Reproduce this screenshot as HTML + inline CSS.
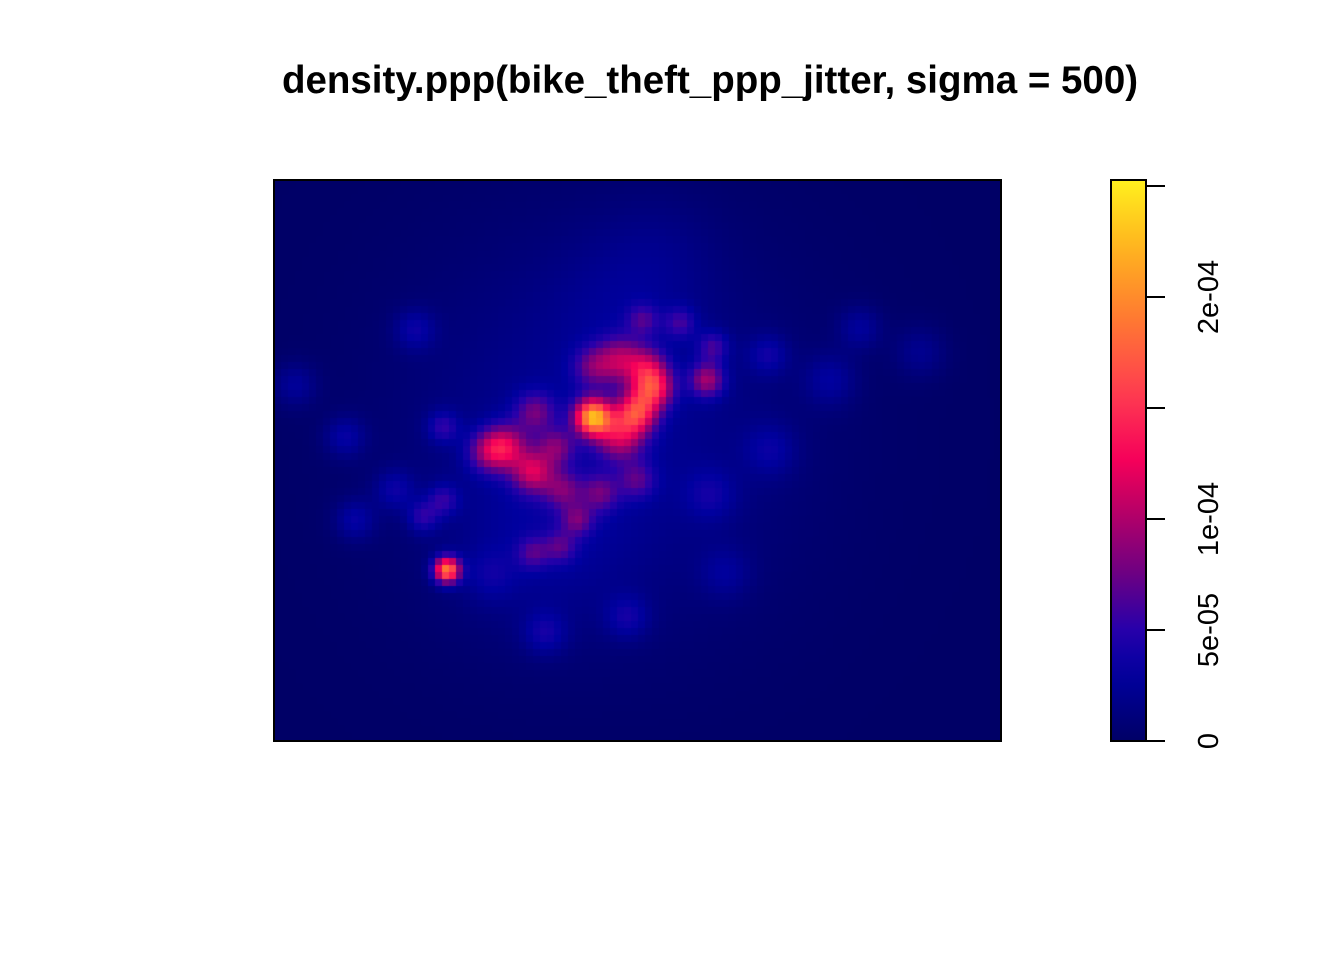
<!DOCTYPE html>
<html><head><meta charset="utf-8"><style>
body{margin:0;background:#fff;width:1344px;height:960px;overflow:hidden;font-family:"Liberation Sans",sans-serif}
</style></head><body>
<svg width="1344" height="960" style="position:absolute;left:0;top:0">
<text x="710" y="93" text-anchor="middle" font-size="38.5" font-weight="bold">density.ppp(bike_theft_ppp_jitter, sigma = 500)</text>
<foreignObject x="274" y="180" width="727" height="561"><canvas id="cv" width="727" height="561"></canvas></foreignObject>
<rect x="274" y="180" width="727" height="561" fill="none" stroke="#000" stroke-width="2"/>
<defs><linearGradient id="cg" x1="0" y1="1" x2="0" y2="0"></linearGradient></defs>
<rect x="1111" y="180" width="35" height="561" fill="url(#cg)" stroke="#000" stroke-width="2"/>
<g id="ticks"></g>
</svg>
<script>
const hx=[593,637,653,620,505,533,535,556,487,620,593,647,707,713,680,643,600,563,637,577,560,533,447,443,443,423,395,345,295,355,415,545,627,725,768,830,860,920,770,710,490,600,620,540,660];
const hy=[417,412,388,435,447,472,412,447,452,360,367,367,380,347,323,320,493,490,480,520,547,553,570,500,427,517,490,437,385,520,330,633,617,573,355,380,328,352,450,495,575,430,300,540,250];
const ha=[1.9,1.15,1.15,0.9,0.9,0.85,0.55,0.55,0.55,0.7,0.5,0.65,0.8,0.45,0.4,0.4,0.5,0.5,0.45,0.5,0.4,0.4,1.8,0.4,0.4,0.4,0.3,0.3,0.25,0.3,0.3,0.3,0.3,0.2,0.3,0.25,0.25,0.2,0.25,0.25,0.2,0.25,0.1,0.15,0.08];
const hs=[12.5,14,14,17,15.5,14.5,14,13,14.5,16,14,14,12,11,11,11,13,13,13,11,11,11,9,11,11,11,14,14,15,14,14,15,15,18,14,18,15,18,18,18,18,130,50,60,40];
const tickVals=[0,5e-5,1e-4,1.5e-4,2e-4,2.5e-4];
const tickLabels=["0","5e-05","1e-04","","2e-04",""];
const vmax=2.527e-4, scale=1e-4;
const stops=[[0,[0,0,102]],[0.12,[0,0,160]],[0.2,[40,0,170]],[0.3,[110,0,130]],[0.42,[190,0,100]],[0.5,[245,0,90]],[0.62,[255,60,80]],[0.75,[255,120,50]],[0.88,[255,180,30]],[1,[255,240,30]]];
function col(v){let t=Math.max(0,Math.min(1,v/vmax));for(let i=1;i<stops.length;i++){if(t<=stops[i][0]){const a=stops[i-1],b=stops[i],f=(t-a[0])/(b[0]-a[0]);return 'rgb('+a[1].map((c,k)=>Math.round(c+(b[1][k]-c)*f)).join(',')+')';}}return 'rgb(255,240,30)';}
const yScale=v=>741-v/vmax*561;
const g=document.getElementById('cg');
for(let i=0;i<=20;i++){const s=document.createElementNS('http://www.w3.org/2000/svg','stop');s.setAttribute('offset',i/20);s.setAttribute('stop-color',col(i/20*vmax));g.appendChild(s);}
const tg=document.getElementById('ticks');
tickVals.forEach((v,i)=>{const y=yScale(v);
const l=document.createElementNS('http://www.w3.org/2000/svg','line');


l.setAttribute('x1',1146);l.setAttribute('x2',1165);l.setAttribute('y1',y);l.setAttribute('y2',y);l.setAttribute('stroke','#000');l.setAttribute('stroke-width',2);tg.appendChild(l);
if(tickLabels[i]){const t=document.createElementNS('http://www.w3.org/2000/svg','text');


t.setAttribute('transform','translate(1218,'+y+') rotate(-90)');t.setAttribute('text-anchor','middle');t.setAttribute('font-size','29');t.textContent=tickLabels[i];tg.appendChild(t);}});
const cv=document.getElementById('cv'),ctx=cv.getContext('2d');const cs=7;
for(let py=0;py<561;py+=cs)for(let px=0;px<727;px+=cs){const X=274+px+cs/2,Y=180+py+cs/2;let v=0;
for(let k=0;k<hx.length;k++){const dx=X-hx[k],dy=Y-hy[k];v+=ha[k]*scale*Math.exp(-(dx*dx+dy*dy)/(2*hs[k]*hs[k]));}
ctx.fillStyle=col(v);ctx.fillRect(px,py,cs,cs);}
</script>
</body></html>
